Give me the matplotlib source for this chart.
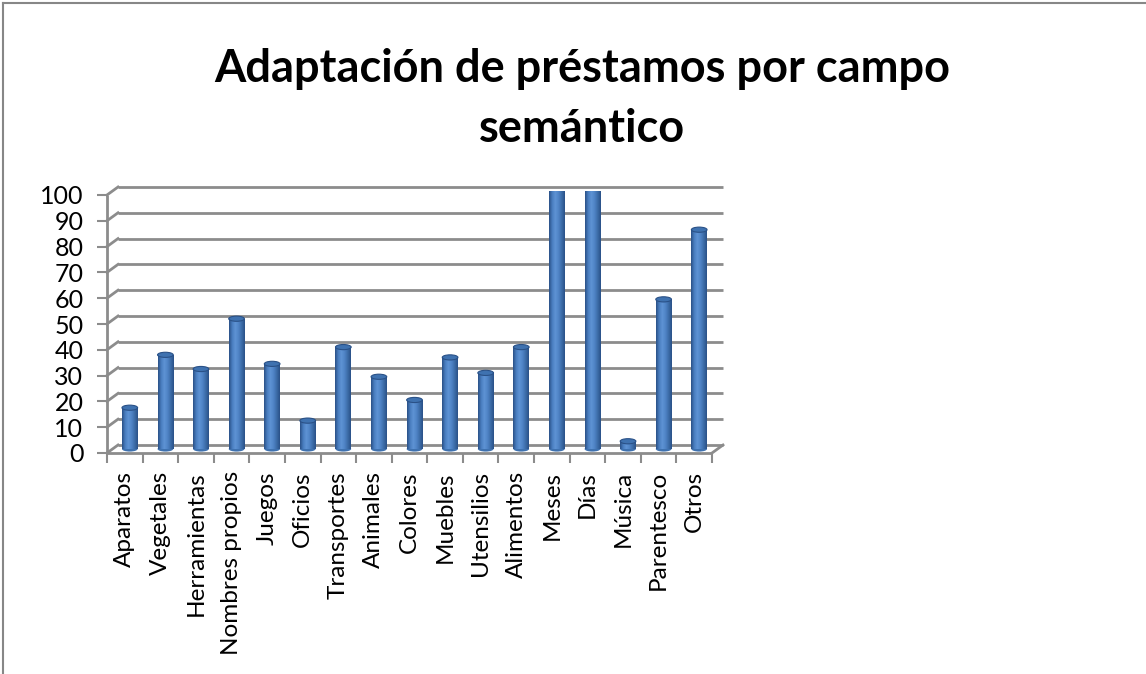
import matplotlib
matplotlib.use("Agg")
import matplotlib.pyplot as plt
import matplotlib.transforms as mtransforms
from matplotlib.patches import Ellipse
from matplotlib.colors import LinearSegmentedColormap
import numpy as np

categories = ["Aparatos", "Vegetales", "Herramientas", "Nombres propios", "Juegos",
              "Oficios", "Transportes", "Animales", "Colores", "Muebles", "Utensilios",
              "Alimentos", "Meses", "Días", "Música", "Parentesco", "Otros"]
values = [16, 36.5, 31, 50.5, 33, 11, 39.5, 28, 19, 35.5, 29.5, 39.5, 100, 100, 3, 58, 85]
yticks = [0, 10, 20, 30, 40, 50, 60, 70, 80, 90, 100]
title = "Adaptación de préstamos por campo\nsemántico"

W, H, DPI = 1146, 674, 100
fig = plt.figure(figsize=(W / DPI, H / DPI), dpi=DPI)
plt.rcParams['font.family'] = ['Lato', 'DejaVu Sans']

# outer chart frame (top and left edges visible)
frame_c = "#878787"
fig.add_artist(plt.Line2D([3 / W, 1], [1 - 2.5 / H, 1 - 2.5 / H], color=frame_c, lw=1.5, transform=fig.transFigure))
fig.add_artist(plt.Line2D([3 / W, 3 / W], [0, 1 - 2.5 / H], color=frame_c, lw=1.5, transform=fig.transFigure))

fig.text(582 / W, 1 - 99 / H, title, ha="center", va="center", fontsize=32.5, fontweight="bold",
         linespacing=1.55, color="black")

# front plane of the axes
x0, x1 = 107, 712
y0, y1 = 453, 195
ax = fig.add_axes([x0 / W, 1 - y0 / H, (x1 - x0) / W, (y0 - y1) / H])
n = len(categories)
ax.set_xlim(-0.5, n - 0.5)
ax.set_ylim(0, 100)
for s in ax.spines.values():
    s.set_visible(False)
ax.patch.set_alpha(0)

grid_c = "#8C8C8C"
dx_back, dy_back = 11, 8     # pixel offset of back wall
back = ax.transData + mtransforms.ScaledTranslation(dx_back / DPI, dy_back / DPI, fig.dpi_scale_trans)
mid = ax.transData + mtransforms.ScaledTranslation(5 / DPI, 4 / DPI, fig.dpi_scale_trans)
left_x, right_x = -0.5, n - 0.5

# back-wall gridlines and side-wall connectors
for t in yticks:
    ax.plot([left_x, right_x], [t, t], color=grid_c, lw=2.0, transform=back, clip_on=False, solid_capstyle="butt")
    p_front = ax.transData.transform((left_x, t))
    p_back = back.transform((left_x, t))
    ax.add_artist(plt.Line2D([p_front[0], p_back[0]], [p_front[1], p_back[1]], color=grid_c, lw=2.0,
                             transform=None, clip_on=False))
# floor front edge and right connector
ax.plot([left_x, right_x], [0, 0], color=grid_c, lw=2.0, clip_on=False, solid_capstyle="butt")
pf = ax.transData.transform((right_x, 0))
pb = back.transform((right_x, 0))
ax.add_artist(plt.Line2D([pf[0], pb[0]], [pf[1], pb[1]], color=grid_c, lw=2.0, transform=None, clip_on=False))
# front vertical axis
ax.plot([left_x, left_x], [0, 100], color=grid_c, lw=2.0, clip_on=False, solid_capstyle="butt")

ax.set_yticks(yticks)
ax.set_yticklabels([str(t) for t in yticks])
ax.set_xticks(np.arange(n))
ax.set_xticklabels(categories, rotation=90)
ax.tick_params(axis="y", length=7, width=1.5, color=grid_c, pad=10, labelsize=18)
ax.tick_params(axis="x", length=0, pad=13, labelsize=17.5)
ax.set_xticks(np.arange(n + 1) - 0.5, minor=True)
ax.tick_params(axis="x", which="minor", length=7, width=1.5, color=grid_c)

# cylinders
bw = 0.44
cmap = LinearSegmentedColormap.from_list("cyl", ["#2A5187", "#4A7EC0", "#5E93D4", "#4F84C6", "#3C6CA8", "#2A5187"])
grad = np.linspace(0, 1, 64).reshape(1, -1)
bars = ax.bar(np.arange(n), values, width=bw, transform=mid, color="#4A7EBF", edgecolor="none", zorder=3)
for i, (b, v) in enumerate(zip(bars, values)):
    xl = i - bw / 2
    im = ax.imshow(grad, cmap=cmap, aspect="auto", extent=(xl, xl + bw, 0, v), zorder=4,
                   interpolation="bilinear")
    im.set_transform(mid)
    im.set_clip_path(b)
    ax.add_patch(Ellipse((i, v), bw, 2.0, transform=mid, facecolor="#3F72B0", edgecolor="#2A5187",
                         lw=0.8, zorder=5))
    ax.add_patch(Ellipse((i, 0), bw, 2.0, transform=mid, facecolor="#3F72B0", edgecolor="none", zorder=2.5))

ax.set_xlim(-0.5, n - 0.5)
ax.set_ylim(0, 100)

fig.savefig("out.png", dpi=DPI)
